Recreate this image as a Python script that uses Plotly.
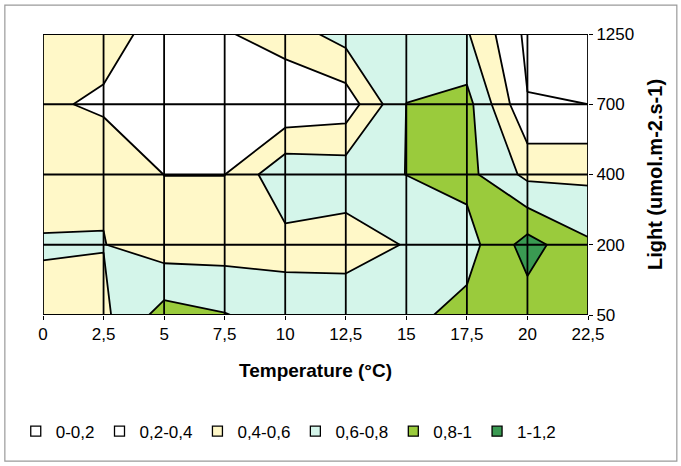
import plotly.graph_objects as go

# ---- data ----
temperature = [0, 2.5, 5, 7.5, 10, 12.5, 15, 17.5, 20, 22.5]
temp_labels = ["0", "2,5", "5", "7,5", "10", "12,5", "15", "17,5", "20", "22,5"]
light_labels = ["50", "200", "400", "700", "1250"]

ratio_50 = [0.53, 0.56, 0.88, 0.81, 0.71, 0.744, 0.75, 0.86, 0.90, 0.88]
ratio_200 = [0.62, 0.605, 0.50, 0.51, 0.53, 0.50, 0.612, 0.72, 1.08, 0.83]
ratio_400 = [0.50, 0.58, 0.398, 0.398, 0.76, 0.72, 0.802, 0.86, 0.55, 0.557]
ratio_700 = [0.44, 0.36, 0.30, 0.30, 0.22, 0.28, 0.802, 0.87, 0.21, 0.20]
ratio_1250 = [0.50, 0.50, 0.30, 0.38, 0.50, 0.68, 0.70, 0.62, 0.153, 0.10]

class_labels = ["0-0,2", "0,2-0,4", "0,4-0,6", "0,6-0,8", "0,8-1", "1-1,2"]
class_colors = ["#FFFFFF", "#FFFFFF", "#FFF8C8", "#D4F5EA", "#9ACB3C", "#3A9A52"]

z = [ratio_50, ratio_200, ratio_400, ratio_700, ratio_1250]
y_idx = list(range(len(light_labels)))

narrow = "Liberation Sans Narrow, Arial Narrow, Liberation Sans, Arial, sans-serif"

# stepwise colour scale: one flat band per class
n = len(class_colors)
colorscale = []
for i, c in enumerate(class_colors):
    colorscale.append([i / n, c])
    colorscale.append([(i + 1) / n, c])

fig = go.Figure()
fig.add_trace(go.Contour(
    x=temperature, y=y_idx, z=z,
    zmin=0, zmax=1.2,
    colorscale=colorscale,
    contours=dict(start=0.2, end=1.0, size=0.2, coloring="fill"),
    line=dict(color="black", width=1.8, smoothing=0),
    showscale=False, hoverinfo="skip", showlegend=False,
))

for lab, col in zip(class_labels, class_colors):
    fig.add_trace(go.Scatter(
        x=[None], y=[None], mode="markers", name=lab,
        marker=dict(symbol="square", size=10, color=col,
                    line=dict(color="black", width=1.3)),
    ))

shapes = []
for t in temperature:
    shapes.append(dict(type="line", xref="x", yref="y", x0=t, x1=t,
                       y0=y_idx[0], y1=y_idx[-1], layer="above",
                       line=dict(color="black", width=1.8)))
for yy in y_idx:
    shapes.append(dict(type="line", xref="x", yref="y", x0=temperature[0],
                       x1=temperature[-1], y0=yy, y1=yy, layer="above",
                       line=dict(color="black", width=1.8)))
# outer frame of the figure
shapes.append(dict(type="rect", xref="paper", yref="paper",
                   x0=-0.07, x1=1.163, y0=-0.52, y1=1.103,
                   line=dict(color="#9a9a9a", width=1.2), layer="below"))

fig.update_layout(
    width=681, height=466,
    margin=dict(l=43, r=93, t=34, b=151),
    paper_bgcolor="white", plot_bgcolor="white",
    shapes=shapes,
    showlegend=True,
    legend=dict(orientation="h", x=-0.05, y=-0.415, xanchor="left",
                yanchor="middle", font=dict(family=narrow, size=17, color="black"),
                itemwidth=30, bgcolor="rgba(0,0,0,0)", itemclick=False),
    xaxis=dict(range=[temperature[0], temperature[-1]], tickmode="array",
               tickvals=temperature, ticktext=temp_labels,
               showgrid=False, zeroline=False, ticks="outside", ticklen=4,
               tickcolor="black", showline=False,
               tickfont=dict(family=narrow, size=17, color="black"),
               title=dict(text="Temperature (°C)", standoff=20,
                          font=dict(family=narrow, size=19, color="black", weight="bold"))),
    yaxis=dict(range=[y_idx[0], y_idx[-1]], tickmode="array", side="right",
               tickvals=y_idx, ticktext=light_labels,
               showgrid=False, zeroline=False, ticks="outside", ticklen=4,
               tickcolor="black", showline=False,
               tickfont=dict(family=narrow, size=17, color="black"),
               title=dict(text="Light (umol.m-2.s-1)", standoff=14,
                          font=dict(family="Liberation Sans, Arial, sans-serif",
                                    size=20, color="black", weight="bold"))),
)

fig.write_html("out.html")
